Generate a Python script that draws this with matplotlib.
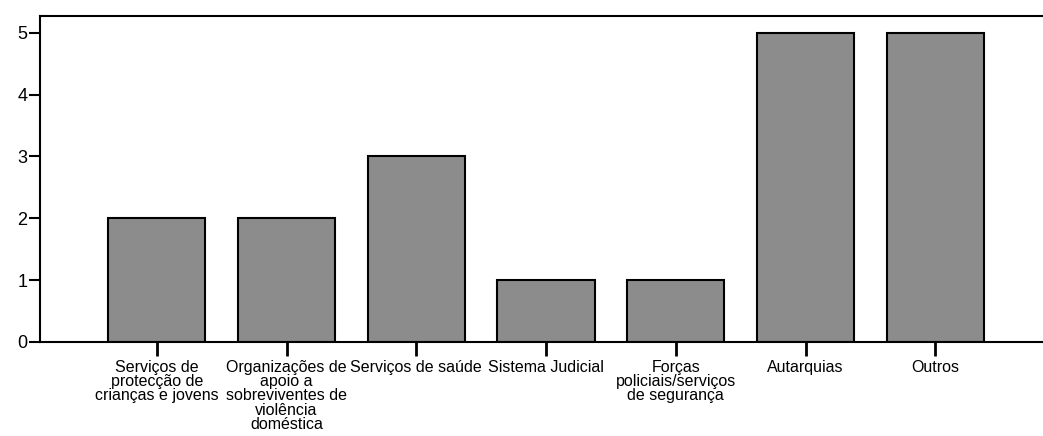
import matplotlib
matplotlib.use("Agg")
import matplotlib.pyplot as plt

categories = ["Serviços de\nprotecção de\ncrianças e jovens",
              "Organizações de\napoio a\nsobreviventes de\nviolência\ndoméstica",
              "Serviços de saúde",
              "Sistema Judicial",
              "Forças\npoliciais/serviços\nde segurança",
              "Autarquias",
              "Outros"]
values = [2, 2, 3, 1, 1, 5, 5]
yticks = [0, 1, 2, 3, 4, 5]

plt.rcParams['font.family'] = ['Liberation Sans', 'DejaVu Sans']
fig = plt.figure(figsize=(10.43, 4.36), dpi=100)
ax = fig.add_axes([40/1043, 1-342/436, 1-40/1043, (342-16)/436])
x = list(range(len(values)))
ax.bar(x, values, width=0.75, color='#8c8c8c', edgecolor='black', linewidth=1.5)
ax.set_xlim(-0.9, 6.83)
ax.set_ylim(0, 5.27)
ax.set_yticks(yticks)
ax.set_yticklabels([str(v) for v in yticks], fontsize=13)
ax.set_xticks(x)
ax.set_xticklabels(categories, fontsize=11.5, linespacing=0.93)
ax.tick_params(axis='y', direction='out', length=8, width=1.5, pad=1)
ax.tick_params(axis='x', direction='out', length=10, width=2, pad=3)
ax.spines['right'].set_visible(False)
for s in ['left', 'bottom', 'top']:
    ax.spines[s].set_linewidth(1.5)
fig.savefig("out.png", dpi=100)
